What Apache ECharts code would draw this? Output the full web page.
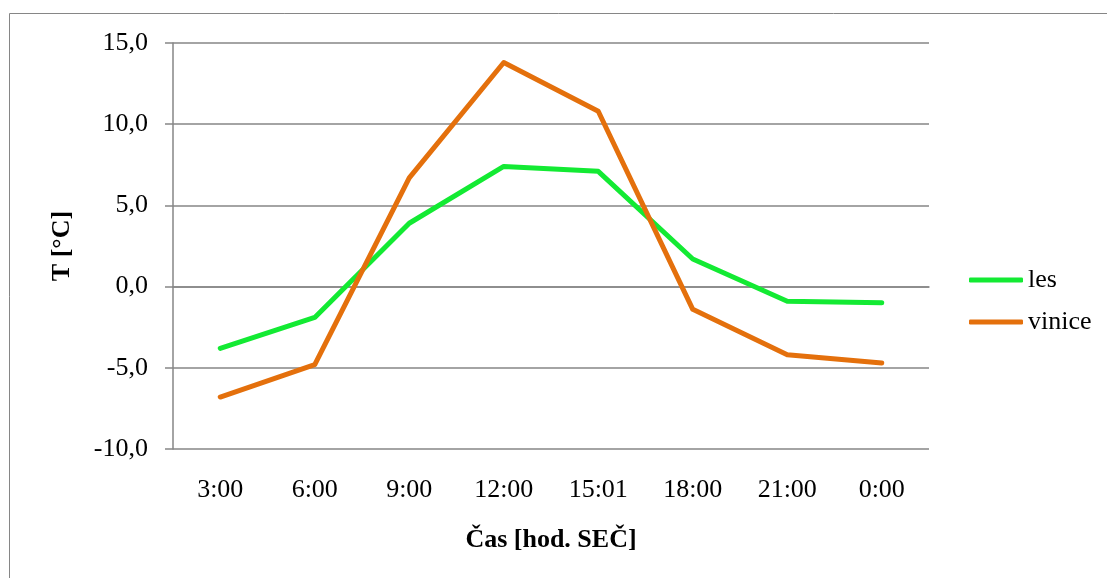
<!DOCTYPE html>
<html>
<head>
<meta charset="utf-8">
<script src="https://cdn.jsdelivr.net/npm/echarts@6/dist/echarts.min.js"></script>
<style>
html,body{margin:0;padding:0;background:#fff;}
#c{width:1107px;height:578px;}
</style>
</head>
<body>
<div id="c"></div>
<script>
const categories = ['3:00','6:00','9:00','12:00','15:01','18:00','21:00','0:00'];
const les = [-3.8, -1.9, 3.9, 7.4, 7.1, 1.7, -0.9, -1.0];
const vinice = [-6.8, -4.8, 6.7, 13.8, 10.8, -1.4, -4.2, -4.7];
const yMin = -10, yMax = 15, yStep = 5;

const font = 'Liberation Serif';
const grey = '#868686';
const fs = 26;
const chart = echarts.init(document.getElementById('c'));
chart.setOption({
  animation: false,
  backgroundColor: '#fff',
  textStyle: {fontFamily: font},
  graphic: [{
    type: 'rect', shape: {x: 9.5, y: 13.5, width: 1200, height: 700},
    style: {fill: 'none', stroke: grey, lineWidth: 1}, silent: true, z: -1
  }],
  grid: {left: 173, right: 178, top: 43, bottom: 129},
  legend: {
    orient: 'vertical', left: 964, top: 262,
    itemWidth: 54, itemHeight: 5, itemGap: 16, icon: 'roundRect',
    textStyle: {fontFamily: font, fontSize: fs, color: '#000'},
    data: ['les', 'vinice']
  },
  xAxis: {
    type: 'category', data: categories, boundaryGap: true,
    name: 'Čas [hod. SEČ]', nameLocation: 'middle', nameGap: 78,
    nameTextStyle: {fontFamily: font, fontSize: fs, fontWeight: 'bold', color: '#000'},
    axisLine: {lineStyle: {color: grey, width: 1.5}},
    axisTick: {show: false},
    axisLabel: {fontFamily: font, fontSize: fs, color: '#000', margin: 28}
  },
  yAxis: {
    type: 'value', min: yMin, max: yMax, interval: yStep,
    name: 'T [°C]', nameLocation: 'middle', nameGap: 98,
    nameTextStyle: {fontFamily: font, fontSize: fs, fontWeight: 'bold', color: '#000'},
    axisLine: {show: true, lineStyle: {color: grey, width: 1.5}},
    axisTick: {show: true, length: 8, lineStyle: {color: grey, width: 1.5}},
    splitLine: {lineStyle: {color: grey, width: 1.5}},
    axisLabel: {fontFamily: font, fontSize: fs, color: '#000', margin: 25,
      formatter: v => v.toFixed(1).replace('.', ',')}
  },
  series: [
    {name: 'les', type: 'line', data: les, showSymbol: false, symbol: 'none',
     lineStyle: {color: '#13EA33', width: 5, cap: 'round', join: 'round'}, itemStyle: {color: '#13EA33'}},
    {name: 'vinice', type: 'line', data: vinice, showSymbol: false, symbol: 'none',
     lineStyle: {color: '#E4700C', width: 5, cap: 'round', join: 'round'}, itemStyle: {color: '#E4700C'}}
  ]
});
</script>
</body>
</html>
